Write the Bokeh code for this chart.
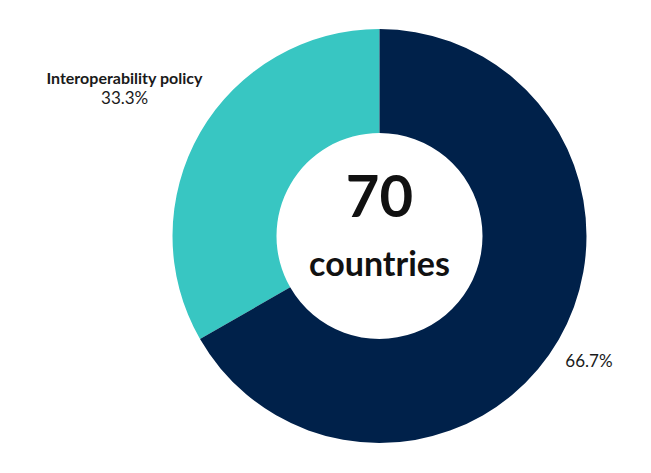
import math
from bokeh.plotting import figure
from bokeh.models import Range1d, ColumnDataSource
from bokeh.core.properties import value
from bokeh.embed import file_html
from bokeh.resources import INLINE

# data
categories = ["Interoperability policy", ""]
shares = [33.3, 66.7]
colors = ["#38C6C2", "#00214A"]
total_label = "70"
total_caption = "countries"

W, H = 635, 457
p = figure(width=W, height=H, output_backend="svg", toolbar_location=None,
           x_range=Range1d(0, W), y_range=Range1d(473 - H, 473),
           min_border=0)
p.axis.visible = False
p.grid.visible = False
p.outline_line_color = None
p.background_fill_color = "white"
p.border_fill_color = "white"

cx, cy = 379, 473 - 235.5
R_out, R_in = 207, 103

tot = sum(shares)
starts, ends, mids = [], [], []
a = math.pi / 2
for s in shares:
    b = a + 2 * math.pi * s / tot
    starts.append(a); ends.append(b); mids.append((a + b) / 2)
    a = b

src = ColumnDataSource(dict(start=starts, end=ends, color=colors))
p.annular_wedge(x=cx, y=cy, inner_radius=R_in, outer_radius=R_out,
                start_angle="start", end_angle="end", fill_color="color",
                line_color=None, source=src)

font = value("Lato")
# center text
p.text(x=[cx], y=[473 - 195], text=[total_label], text_font=font,
       text_font_style="bold", text_font_size="58px", text_align="center",
       text_baseline="alphabetic", text_color="#111111")
p.text(x=[cx], y=[473 - 262], text=[total_caption], text_font=font,
       text_font_style="bold", text_font_size="34px", text_align="center",
       text_baseline="alphabetic", text_color="#111111")

# outside labels
r_lab = 224
for cat, s, m in zip(categories, shares, mids):
    ax = cx + r_lab * math.cos(m)
    ay = cy + r_lab * math.sin(m)
    pct = f"{s:.1f}%"
    if cat:
        bx = ax - 61
        p.text(x=[bx], y=[ay + 46.5], text=[cat], text_font=font,
               text_font_style="bold", text_font_size="16px",
               text_align="center", text_baseline="alphabetic", text_color="#1a1a1a")
        p.text(x=[bx], y=[ay + 26], text=[pct], text_font=font,
               text_font_style="normal", text_font_size="17px",
               text_align="center", text_baseline="alphabetic", text_color="#1a1a1a")
    else:
        p.text(x=[ax - 8], y=[ay - 12], text=[pct], text_font=font,
               text_font_style="normal", text_font_size="17px",
               text_align="left", text_baseline="alphabetic", text_color="#1a1a1a")

open("out.html", "w").write(file_html(p, INLINE))
